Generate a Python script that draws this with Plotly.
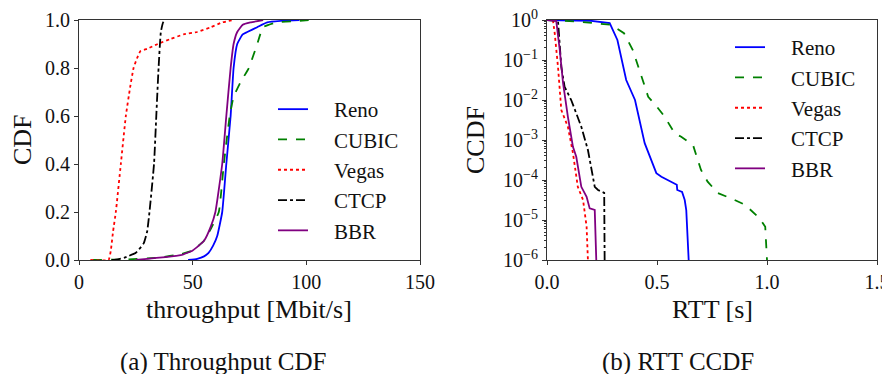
import plotly.graph_objects as go

# ---- Throughput CDF data (Mbit/s, CDF) ----
reno_tp_x = [48, 52, 55, 57, 59, 60.8, 63, 64.8, 66.7, 68, 69.6, 72, 74, 78.4, 82.8, 90, 97]
reno_tp_y = [0.0, 0.005, 0.015, 0.03, 0.06, 0.1, 0.2, 0.4, 0.6, 0.8, 0.9, 0.94, 0.95, 0.97, 0.99, 0.997, 1.0]
cubic_tp_x = [6, 20, 35, 45, 50, 55, 58, 61.5, 63.7, 66.3, 68, 71, 74.7, 78.4, 81, 87, 95, 102]
cubic_tp_y = [0.0, 0.002, 0.01, 0.025, 0.04, 0.08, 0.13, 0.2, 0.4, 0.6, 0.68, 0.74, 0.8, 0.9, 0.97, 0.99, 0.995, 1.0]
vegas_tp_x = [5, 13, 14, 15, 16.2, 18.4, 20.6, 22.5, 24, 25.5, 27, 30, 34.6, 40, 46, 52, 58, 63, 68]
vegas_tp_y = [0.0, 0.0, 0.04, 0.12, 0.2, 0.4, 0.6, 0.72, 0.8, 0.84, 0.87, 0.88, 0.9, 0.92, 0.94, 0.95, 0.97, 0.99, 1.0]
ctcp_tp_x = [14.5, 17, 20, 25, 28.5, 30, 31, 33, 34, 35, 36, 37, 38]
ctcp_tp_y = [0.0, 0.003, 0.01, 0.03, 0.07, 0.12, 0.2, 0.4, 0.6, 0.8, 0.95, 0.99, 1.0]
bbr_tp_x = [25, 30, 38, 44.7, 50, 55, 58, 60, 63, 64.8, 66.7, 68, 69.6, 72, 75.4, 81]
bbr_tp_y = [0.0, 0.005, 0.012, 0.02, 0.04, 0.08, 0.14, 0.2, 0.4, 0.6, 0.8, 0.9, 0.95, 0.98, 0.99, 1.0]

# ---- RTT CCDF data (s, log10 CCDF exponent) ----
reno_rtt_x = [0.0, 0.2, 0.285, 0.32, 0.36, 0.40, 0.444, 0.497, 0.52, 0.565, 0.59, 0.592, 0.614, 0.626, 0.633, 0.644]
reno_rtt_e = [0.0, -0.02, -0.08, -0.5, -1.5, -2.0, -3.08, -3.83, -3.92, -4.04, -4.12, -4.25, -4.3, -4.5, -4.75, -6.0]
cubic_rtt_x = [0.0, 0.14, 0.29, 0.35, 0.39, 0.43, 0.46, 0.5, 0.535, 0.58, 0.61, 0.664, 0.70, 0.73, 0.777, 0.838, 0.9, 0.967, 0.992, 1.0]
cubic_rtt_e = [0.0, -0.04, -0.12, -0.33, -0.75, -1.42, -1.92, -2.17, -2.42, -2.83, -2.92, -3.13, -3.75, -4.04, -4.33, -4.46, -4.62, -4.96, -5.17, -6.0]
vegas_rtt_x = [0.0, 0.027, 0.035, 0.05, 0.065, 0.095, 0.118, 0.14, 0.164, 0.18, 0.186]
vegas_rtt_e = [0.0, 0.0, -0.33, -1.17, -2.25, -2.67, -3.33, -4.17, -4.5, -5.17, -6.0]
ctcp_rtt_x = [0.0, 0.05, 0.065, 0.08, 0.11, 0.156, 0.186, 0.217, 0.232, 0.26, 0.262]
ctcp_rtt_e = [0.0, -0.02, -1.17, -1.67, -2.0, -2.67, -3.25, -4.17, -4.25, -4.32, -6.0]
bbr_rtt_x = [0.0, 0.042, 0.058, 0.073, 0.095, 0.118, 0.133, 0.156, 0.18, 0.194, 0.217, 0.224]
bbr_rtt_e = [0.0, -0.02, -0.75, -1.58, -2.42, -3.17, -3.42, -4.17, -4.42, -4.71, -4.75, -6.0]

names = ["Reno", "CUBIC", "Vegas", "CTCP", "BBR"]
colors = ["#0000ff", "#008000", "#ff0000", "#000000", "#800080"]
dashes = ["solid", "dash", "dot", "dashdot", "solid"]

tp_x_tick_vals = [0, 50, 100, 150]
tp_y_tick_vals = [0.0, 0.2, 0.4, 0.6, 0.8, 1.0]
rtt_x_tick_vals = [0.0, 0.5, 1.0, 1.5]
rtt_y_exps = [0, -1, -2, -3, -4, -5, -6]

tp_data = [(reno_tp_x, reno_tp_y), (cubic_tp_x, cubic_tp_y), (vegas_tp_x, vegas_tp_y),
           (ctcp_tp_x, ctcp_tp_y), (bbr_tp_x, bbr_tp_y)]
rtt_data = [(reno_rtt_x, reno_rtt_e), (cubic_rtt_x, cubic_rtt_e), (vegas_rtt_x, vegas_rtt_e),
            (ctcp_rtt_x, ctcp_rtt_e), (bbr_rtt_x, bbr_rtt_e)]

SERIF = "Liberation Serif"
INK = "#111111"
PAD = "\u00a0" * 4  # gap between legend line sample and its label
fig = go.Figure()

for (xs, ys), n, c, d in zip(tp_data, names, colors, dashes):
    fig.add_trace(go.Scatter(x=xs, y=ys, mode="lines", name=PAD + n,
                             line=dict(color=c, dash=d, width=1.8, shape="spline", smoothing=0.4),
                             xaxis="x", yaxis="y", legend="legend"))
for (xs, es), n, c, d in zip(rtt_data, names, colors, dashes):
    fig.add_trace(go.Scatter(x=xs, y=[10 ** e for e in es], mode="lines", name=PAD + n,
                             line=dict(color=c, dash=d, width=1.8),
                             xaxis="x2", yaxis="y2", legend="legend2"))

# page offset: the browser page has an 8px body margin
OFF = 8
W, H = 890 - OFF, 374 - OFF


def px_x(p):
    return (p - OFF) / W


def px_y(p):
    return (H - (p - OFF)) / H


ydom = [px_y(260), px_y(20)]


def axis_common():
    return dict(showline=True, linecolor="#333333", linewidth=1, mirror=True,
                ticks="outside", ticklen=4, tickcolor="#333333", showgrid=False, zeroline=False,
                automargin=False, ticklabeloverflow="allow",
                tickfont=dict(family=SERIF, size=20, color=INK))


fig.update_layout(
    template="none",
    width=W, height=H, margin=dict(l=0, r=0, t=0, b=0, pad=0, autoexpand=False),
    paper_bgcolor="white", plot_bgcolor="white",
    font=dict(family=SERIF, color=INK, size=20),
    xaxis=dict(domain=[px_x(79), px_x(420)], range=[0, 150], tickvals=tp_x_tick_vals,
               anchor="y", **axis_common()),
    yaxis=dict(domain=ydom, range=[0, 1], tickvals=tp_y_tick_vals,
               ticktext=[f"{v:.1f}" for v in tp_y_tick_vals], anchor="x", **axis_common()),
    xaxis2=dict(domain=[px_x(547), px_x(877)], range=[0, 1.5], tickvals=rtt_x_tick_vals,
                ticktext=[f"{v:.1f}" for v in rtt_x_tick_vals], anchor="y2", **axis_common()),
    yaxis2=dict(domain=ydom, type="log", range=[-6, 0], tickvals=[10 ** e for e in rtt_y_exps],
                ticktext=[f"10<sup>{str(e).replace('-', '−')}</sup>" for e in rtt_y_exps],
                anchor="x2",
                minor=dict(ticks="outside", ticklen=2, tickcolor="#333333",
                           tickvals=[m * 10 ** e for e in range(-6, 0) for m in range(2, 10)]),
                **axis_common()),
    legend=dict(x=px_x(273), y=px_y(89), xanchor="left", yanchor="top",
                bgcolor="rgba(255,255,255,0)", font=dict(family=SERIF, size=21, color=INK),
                tracegroupgap=0),
    legend2=dict(x=px_x(730), y=px_y(27), xanchor="left", yanchor="top",
                 bgcolor="rgba(255,255,255,0)", font=dict(family=SERIF, size=21, color=INK),
                 tracegroupgap=0),
    showlegend=True,
)

ann_texts = ["CDF", "CCDF", "throughput [Mbit/s]", "RTT [s]", "(a) Throughput CDF", "(b) RTT CCDF"]
ann_pos = [(23, 140, -90, 26), (476, 140, -90, 26), (249, 309, 0, 26), (712, 309, 0, 26),
           (223, 362, 0, 25), (678, 362, 0, 25)]
for t, (px, py, ang, sz) in zip(ann_texts, ann_pos):
    fig.add_annotation(xref="paper", yref="paper", showarrow=False, xanchor="center",
                       yanchor="middle", text=t, x=px_x(px), y=px_y(py), textangle=ang,
                       font=dict(family=SERIF, size=sz, color=INK))

fig.write_html("out.html")
